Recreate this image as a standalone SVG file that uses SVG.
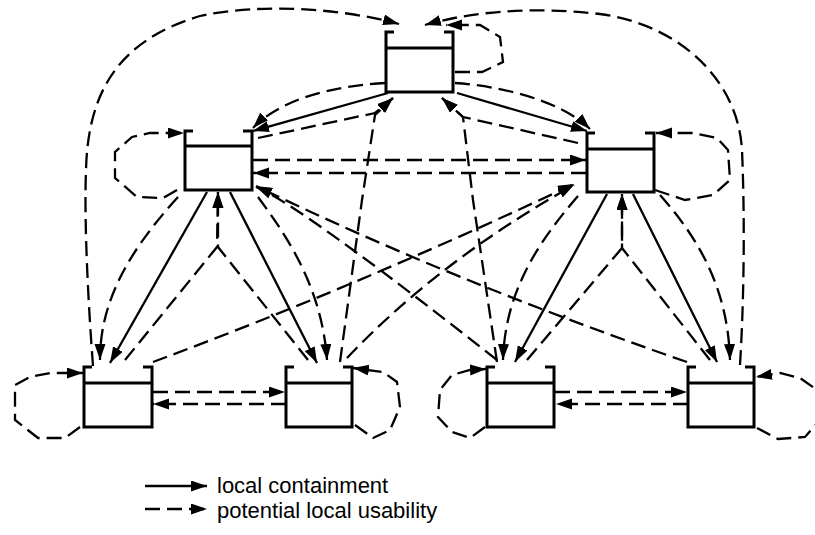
<svg xmlns="http://www.w3.org/2000/svg" width="815" height="535" viewBox="0 0 815 535">
<style>
.node{fill:none;stroke:#000;stroke-width:3}
.e{fill:none;stroke:#000;stroke-width:2.3}
.d{stroke-dasharray:15 7}
.lbl{font-family:"Liberation Sans",Arial,sans-serif;font-size:22px;fill:#000}
</style>
<defs>
<marker id="ah" markerUnits="userSpaceOnUse" markerWidth="18" markerHeight="12" refX="16" refY="5.5" orient="auto">
<path d="M0,0 L16,5.5 L0,11 z" fill="#000"/>
</marker>
</defs>
<rect width="815" height="535" fill="#fff"/>
<g id="T" transform="translate(386,32)"><path class="node" d="M8,0 H0 V60 H67 V0 H58 M0,16 H67"/></g>
<g id="L" transform="translate(185,131)"><path class="node" d="M8,0 H0 V59 H67 V0 H58 M0,15 H67"/></g>
<g id="R" transform="translate(587,133)"><path class="node" d="M8,0 H0 V59 H67 V0 H58 M0,16 H67"/></g>
<g id="B1" transform="translate(84,367)"><path class="node" d="M8,0 H0 V60 H68 V0 H59 M0,16 H68"/></g>
<g id="B2" transform="translate(286,367)"><path class="node" d="M8,0 H0 V60 H66 V0 H57 M0,16 H66"/></g>
<g id="B3" transform="translate(487,367)"><path class="node" d="M8,0 H0 V60 H67 V0 H58 M0,16 H67"/></g>
<g id="B4" transform="translate(688,367)"><path class="node" d="M8,0 H0 V60 H66 V0 H57 M0,16 H66"/></g>
<g id="connectors" marker-end="url(#ah)">
<path class="e d" d="M93,366 C88,300 84,220 86,170 C88,90 120,40 200,16 C260,3 340,8 399,24"/>
<path class="e d" d="M740,365 C744,300 745,220 742,150 C738,80 680,25 600,14 C530,6 470,12 425,25"/>
<path class="e d" d="M455,72 L482,72 L503,62 L500,37 L480,25 L446,25"/>
<path class="e d" d="M455,83 C500,86 560,100 590,129"/>
<path class="e d" d="M385,83 C330,86 280,100 253,128"/>
<path class="e" d="M388,93 L253,131"/>
<path class="e" d="M457,93 L587,131"/>
<path class="e d" d="M258,138 L375,113 L393,98"/>
<path class="e d" d="M340,362 L362,200 L375,115 L393,98"/>
<path class="e d" d="M578,143 L463,117 L442,98"/>
<path class="e d" d="M497,362 L473,200 L463,117 L442,98"/>
<path class="e d" d="M253,160 L586,160"/>
<path class="e d" d="M586,173 L253,173"/>
<path class="e d" d="M177,190 L163,198 L137,197 L115,178 L115,152 L132,137 L150,133 L184,133"/>
<path class="e d" d="M655,190 L685,200 L713,195 L730,180 L728,150 L717,138 L693,133 L656,133"/>
<path class="e d" d="M80,427 L65,438 L38,438 L15,420 L15,385 L30,377 L50,373 L83,373"/>
<path class="e d" d="M355,425 L373,438 L390,430 L400,407 L397,382 L383,372 L353,368"/>
<path class="e d" d="M485,427 L470,438 L452,432 L438,417 L440,390 L452,375 L470,370 L486,369"/>
<path class="e d" d="M757,428 L778,439 L805,437 L820,420 L820,392 L800,378 L780,373 L756,377"/>
<path class="e d" d="M153,392 L285,392"/>
<path class="e d" d="M286,404 L153,404"/>
<path class="e d" d="M555,392 L687,392"/>
<path class="e d" d="M688,404 L556,404"/>
<path class="e" d="M207,192 L110,363"/>
<path class="e" d="M230,192 L317,363"/>
<path class="e" d="M607,194 L515,362"/>
<path class="e" d="M633,194 L717,362"/>
<path class="e d" d="M178,197 C130,250 100,300 100,360"/>
<path class="e d" d="M258,197 C290,240 322,290 327,360"/>
<path class="e d" d="M578,196 C540,240 505,290 503,360"/>
<path class="e d" d="M660,195 C700,240 728,290 730,360"/>
<path class="e d" d="M125,360 L217,247 L218,192"/>
<path class="e d" d="M308,360 L218,247 L218,192"/>
<path class="e d" d="M527,360 L622,248 L622,194"/>
<path class="e d" d="M710,360 L622,248 L622,194"/>
<path class="e d" d="M153,362 Q360,285 574,184"/>
<path class="e d" d="M347,358 Q440,260 574,185"/>
<path class="e d" d="M687,362 Q450,280 256,186"/>
<path class="e d" d="M497,360 Q300,205 256,187"/>
</g>
<g id="legend">
<path class="e" d="M145,486 L207,486" marker-end="url(#ah)"/>
<path class="e d" d="M145,509 L207,509" marker-end="url(#ah)"/>
<text class="lbl" x="217" y="493">local containment</text>
<text class="lbl" x="217" y="518">potential local usability</text>
</g>
</svg>
